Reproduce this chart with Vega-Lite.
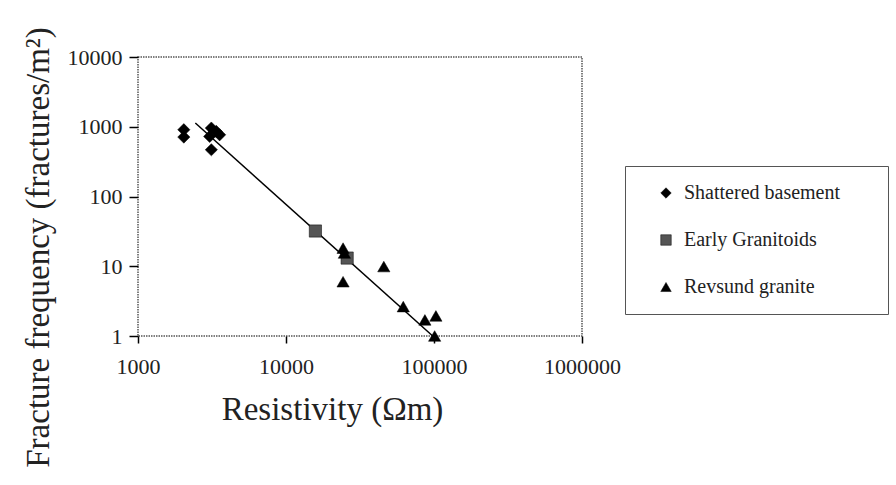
{
  "$schema": "https://vega.github.io/schema/vega-lite/v6.json",
  "autosize": {"type": "none"},
  "width": 444,
  "height": 279,
  "padding": {"left": 138, "top": 57, "right": 314, "bottom": 149},
  "background": "white",
  "config": {
    "font": "Liberation Serif",
    "view": {"stroke": "#555", "strokeDash": [1.5, 1], "strokeWidth": 1.5},
    "axis": {
      "domain": false,
      "grid": false,
      "tickColor": "black",
      "tickWidth": 1.5,
      "labelFont": "Liberation Serif",
      "labelFontSize": 22,
      "labelColor": "#222",
      "labelFlush": false,
      "titleFont": "Liberation Serif",
      "titleFontSize": 33,
      "titleFontWeight": "normal",
      "titleColor": "#222"
    },
    "legend": {
      "labelFont": "Liberation Serif",
      "labelFontSize": 20,
      "labelColor": "#222",
      "labelLimit": 300
    }
  },
  "layer": [
    {
      "data": {"values": [
        {"resistivity": 2440, "frequency": 1130},
        {"resistivity": 98000, "frequency": 1.0}
      ]},
      "mark": {"type": "line", "color": "black", "strokeWidth": 1.5},
      "encoding": {
        "x": {"field": "resistivity", "type": "quantitative"},
        "y": {"field": "frequency", "type": "quantitative"}
      }
    },
    {
      "data": {"values": [
        {"unit": "Shattered basement", "resistivity": 2040, "frequency": 906},
        {"unit": "Shattered basement", "resistivity": 2040, "frequency": 711},
        {"unit": "Shattered basement", "resistivity": 3130, "frequency": 957},
        {"unit": "Shattered basement", "resistivity": 3050, "frequency": 727},
        {"unit": "Shattered basement", "resistivity": 3560, "frequency": 767},
        {"unit": "Shattered basement", "resistivity": 3380, "frequency": 857},
        {"unit": "Shattered basement", "resistivity": 3130, "frequency": 468},
        {"unit": "Early Granitoids", "resistivity": 15800, "frequency": 32},
        {"unit": "Early Granitoids", "resistivity": 25900, "frequency": 13.1},
        {"unit": "Revsund granite", "resistivity": 24300, "frequency": 18.2},
        {"unit": "Revsund granite", "resistivity": 24800, "frequency": 15.5},
        {"unit": "Revsund granite", "resistivity": 24300, "frequency": 6.0},
        {"unit": "Revsund granite", "resistivity": 45800, "frequency": 9.9},
        {"unit": "Revsund granite", "resistivity": 62000, "frequency": 2.64},
        {"unit": "Revsund granite", "resistivity": 86800, "frequency": 1.7},
        {"unit": "Revsund granite", "resistivity": 103000, "frequency": 1.94},
        {"unit": "Revsund granite", "resistivity": 101000, "frequency": 1.0}
      ]},
      "mark": {"type": "point", "filled": true, "size": 150, "opacity": 1, "stroke": "black", "strokeWidth": 0.5},
      "encoding": {
        "x": {
          "field": "resistivity", "type": "quantitative",
          "scale": {"type": "log", "domain": [1000, 1000000], "nice": false},
          "axis": {
            "values": [1000, 10000, 100000, 1000000],
            "format": "d",
            "tickSize": 7,
            "labelPadding": 13,
            "title": "Resistivity (Ωm)",
            "titlePadding": 16,
            "titleX": 194
          }
        },
        "y": {
          "field": "frequency", "type": "quantitative",
          "scale": {"type": "log", "domain": [1, 10000], "nice": false},
          "axis": {
            "values": [1, 10, 100, 1000, 10000],
            "format": "d",
            "tickSize": 9,
            "labelPadding": 7,
            "title": "Fracture frequency (fractures/m²)",
            "titlePadding": 12,
            "titleY": 190
          }
        },
        "shape": {
          "field": "unit", "type": "nominal",
          "scale": {"domain": ["Shattered basement", "Early Granitoids", "Revsund granite"], "range": ["diamond", "square", "triangle-up"]},
          "legend": {
            "title": null,
            "orient": "none",
            "legendX": 487,
            "legendY": 109,
            "padding": 17,
            "strokeColor": "#555",
            "fillColor": "white",
            "symbolOffset": 14,
            "symbolSize": 110,
            "symbolStrokeWidth": 0.5,
            "labelOffset": 8,
            "rowPadding": 27,
            "labelLimit": 300,
            "labelExpr": "datum.label + '\u2800\u2800'"
          }
        },
        "color": {
          "field": "unit", "type": "nominal",
          "scale": {"domain": ["Shattered basement", "Early Granitoids", "Revsund granite"], "range": ["black", "#555", "black"]},
          "legend": {
            "title": null,
            "orient": "none",
            "legendX": 487,
            "legendY": 109,
            "padding": 17,
            "strokeColor": "#555",
            "fillColor": "white",
            "symbolOffset": 14,
            "symbolSize": 110,
            "symbolStrokeWidth": 0.5,
            "labelOffset": 8,
            "rowPadding": 27,
            "labelLimit": 300,
            "labelExpr": "datum.label + '\u2800\u2800'"
          }
        }
      }
    }
  ]
}
